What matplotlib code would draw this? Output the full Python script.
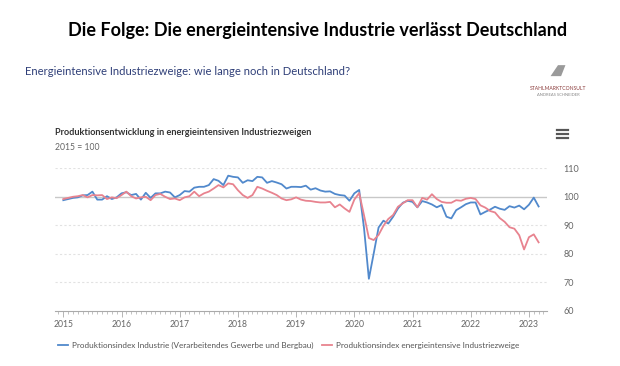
import numpy as np
import matplotlib
matplotlib.use("Agg")
import matplotlib.pyplot as plt
from matplotlib.ticker import FixedLocator

# monthly values, Jan 2015 .. Mar 2023 (2015 = 100)
start_year = 2015
industrie = [
    98.8, 99.2, 99.6, 99.8, 100.5, 100.6, 101.8, 99.0, 99.0, 100.2, 99.2, 99.8,        # 2015
    101.2, 101.6, 100.6, 101.0, 99.0, 101.4, 99.6, 101.2, 101.2, 101.8, 101.5, 99.8,    # 2016
    100.6, 102.0, 101.8, 103.2, 103.5, 103.5, 104.1, 106.2, 105.6, 104.1, 107.4, 107.0, # 2017
    106.8, 104.9, 105.8, 105.5, 107.0, 106.8, 104.9, 105.5, 105.0, 104.4, 102.9, 103.5, # 2018
    103.5, 103.4, 103.9, 102.5, 103.0, 102.2, 101.8, 101.9, 101.0, 100.6, 100.4, 98.6,  # 2019
    101.2, 102.4, 89.0, 71.2, 80.1, 89.2, 91.6, 90.6, 93.0, 95.9, 97.9, 98.6,          # 2020
    98.2, 96.3, 98.5, 98.0, 97.3, 96.3, 97.1, 93.0, 92.4, 95.3, 96.3, 97.4,            # 2021
    98.0, 98.0, 93.8, 94.7, 95.5, 96.5, 95.8, 95.4, 96.7, 96.2, 96.9, 95.6,            # 2022
    97.2, 99.7, 96.6,                                                                   # 2023
]
energieintensiv = [
    99.2, 99.6, 100.0, 100.2, 100.6, 99.8, 100.6, 100.5, 100.6, 99.2, 99.8, 99.5,
    100.6, 101.8, 100.2, 99.4, 99.8, 100.0, 98.8, 100.6, 101.0, 100.0, 99.2, 99.4,
    98.8, 99.8, 100.2, 101.8, 100.2, 101.2, 101.8, 102.9, 104.1, 103.3, 104.7, 104.4,
    102.3, 100.6, 99.6, 100.6, 103.5, 102.9, 102.1, 101.4, 100.6, 99.4, 98.8, 99.1,
    99.8, 99.0, 98.6, 98.5, 98.2, 98.0, 98.0, 98.2, 96.3, 97.3, 95.9, 94.7,
    99.0, 101.3, 93.5, 85.5, 84.8, 86.6, 89.8, 92.2, 93.6, 96.5, 97.7, 98.8,
    98.8, 96.3, 99.6, 99.0, 100.9, 99.2, 98.2, 97.9, 97.9, 98.8, 98.6, 99.3,
    99.6, 99.2, 97.0, 96.2, 95.0, 94.5, 92.5, 91.2, 89.3, 88.8, 86.5, 81.5,
    85.8, 86.8, 84.0,
]
years = list(range(2015, 2024))
y_ticks = [60, 70, 80, 90, 100, 110]
label_blue = "Produktionsindex Industrie (Verarbeitendes Gewerbe und Bergbau)"
label_red = "Produktionsindex energieintensive Industriezweige"

t = start_year + np.arange(len(industrie)) / 12.0

blue = "#5189cc"
red = "#e8838f"
grey_txt = "#666666"

plt.rcParams['font.family'] = ['Lato', 'DejaVu Sans']

fig = plt.figure(figsize=(6.2, 3.66), dpi=100)
fig.patch.set_facecolor("white")

fig.text(0.513, 0.918, "Die Folge: Die energieintensive Industrie verlässt Deutschland",
         ha="center", va="center", fontsize=13.0, fontweight="bold", color="black")
fig.text(0.040, 0.805, "Energieintensive Industriezweige: wie lange noch in Deutschland?",
         ha="left", va="center", fontsize=8.1, color="#2f3f78")

# logo
fig.patches.append(plt.Polygon([[0.888, 0.792], [0.900, 0.822], [0.912, 0.822], [0.905, 0.792]],
                               closed=True, transform=fig.transFigure, fc="#9a9a9a", ec="none"))
fig.text(0.900, 0.757, "STAHLMARKTCONSULT", ha="center", va="center", fontsize=3.6,
         color="#8a3a3a")
fig.text(0.900, 0.740, "ANDREAS SCHNEIDER", ha="center", va="center", fontsize=3.0,
         color="#888888")

# chart header
fig.text(0.089, 0.637, "Produktionsentwicklung in energieintensiven Industriezweigen",
         ha="left", va="center", fontsize=6.6, fontweight="bold", color="#333333")
fig.text(0.089, 0.596, "2015 = 100", ha="left", va="center", fontsize=6.2, color=grey_txt)
# menu icon
for yy in (0.644, 0.633, 0.622):
    fig.add_artist(plt.Line2D([0.898, 0.916], [yy, yy], transform=fig.transFigure,
                              color="#555555", lw=1.6))

ax = fig.add_axes([0.0887, 0.1511, 0.7935, 0.3891])
ax.plot(t, industrie, color=blue, lw=1.3, label=label_blue, zorder=3)
ax.plot(t, energieintensiv, color=red, lw=1.3, label=label_red, zorder=3)

ax.set_xlim(2014.857, 2023.31)
ax.set_ylim(60, 110)
for v in y_ticks[1:]:
    if v == 100:
        ax.axhline(v, color="#c8c8c8", lw=1.0, zorder=1)
    else:
        ax.axhline(v, color="#e2e2e2", lw=0.8, ls=(0, (2, 2)), zorder=1)

for s in ["top", "left", "right"]:
    ax.spines[s].set_visible(False)
ax.spines["bottom"].set_color("#aaaaaa")
ax.spines["bottom"].set_linewidth(0.8)

ax.yaxis.tick_right()
ax.set_yticks(y_ticks)
ax.tick_params(axis="y", length=0, pad=12, labelsize=6.5, labelcolor=grey_txt)
ax.set_xticks(years)
ax.set_xticklabels([str(y) for y in years])
ax.xaxis.set_minor_locator(FixedLocator(start_year - 1 + np.arange(0, 12 * 10) / 12.0))
ax.tick_params(axis="x", which="major", length=4, width=0.6, color="#aaaaaa",
               labelsize=6.2, labelcolor=grey_txt, pad=3)
ax.tick_params(axis="x", which="minor", length=2, width=0.5, color="#aaaaaa")

leg = fig.legend(loc="center left", bbox_to_anchor=(0.082, 0.055), ncol=2, frameon=False,
                 fontsize=5.9, handlelength=1.2, handletextpad=0.5, columnspacing=1.0)
for txt in leg.get_texts():
    txt.set_color("#555555")

fig.savefig("out.png", dpi=100, facecolor="white")
